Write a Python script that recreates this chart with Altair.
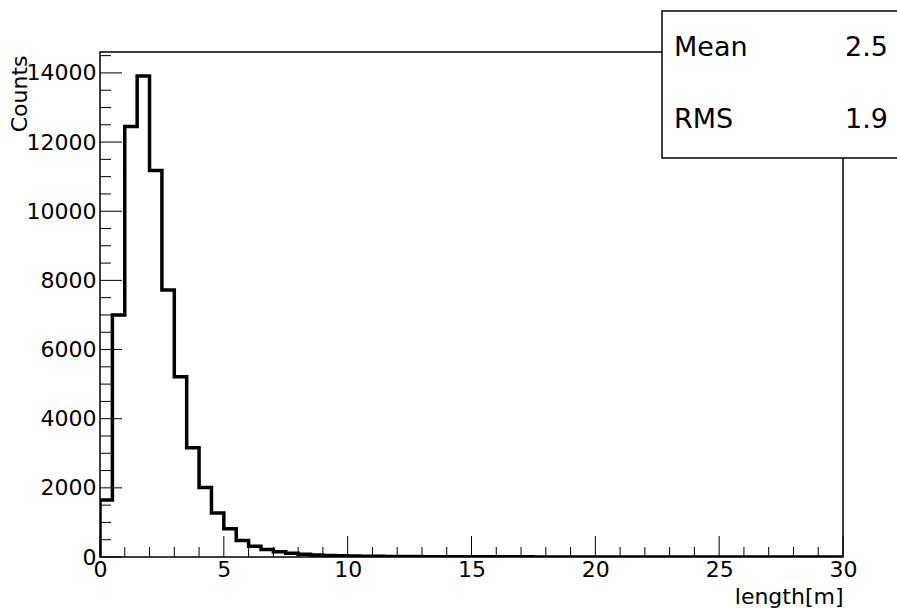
import altair as alt
import pandas as pd

# ---- data ----
bin_low = [0.0, 0.5, 1.0, 1.5, 2.0, 2.5, 3.0, 3.5, 4.0, 4.5,
           5.0, 5.5, 6.0, 6.5, 7.0, 7.5, 8.0, 8.5, 9.0, 9.5,
           10.0, 10.5, 11.0, 11.5, 12.0, 12.5, 13.0, 13.5, 14.0, 14.5,
           15.0, 15.5, 16.0, 16.5, 17.0, 17.5, 18.0, 18.5, 19.0, 19.5,
           20.0, 20.5, 21.0, 21.5, 22.0, 22.5, 23.0, 23.5, 24.0, 24.5,
           25.0, 25.5, 26.0, 26.5, 27.0, 27.5, 28.0, 28.5, 29.0, 29.5]
counts = [1650, 7000, 12450, 13910, 11180, 7720, 5210, 3160, 2010, 1270,
          820, 480, 310, 220, 150, 110, 80, 60, 45, 35,
          28, 24, 20, 17, 14, 12, 10, 9, 8, 7,
          6, 5, 5, 4, 4, 3, 3, 3, 2, 2,
          2, 2, 1, 1, 1, 1, 1, 1, 1, 1,
          1, 1, 1, 1, 1, 1, 1, 1, 1, 1]
x_max = 30.0
y_max = 14605

y_major = [0, 2000, 4000, 6000, 8000, 10000, 12000, 14000]
y_minor = [500, 1000, 1500, 2500, 3000, 3500, 4500, 5000, 5500, 6500, 7000, 7500,
           8500, 9000, 9500, 10500, 11000, 11500, 12500, 13000, 13500, 14500]
x_major = [0, 5, 10, 15, 20, 25, 30]
x_minor = [1, 2, 3, 4, 6, 7, 8, 9, 11, 12, 13, 14, 16, 17, 18, 19,
           21, 22, 23, 24, 26, 27, 28, 29]

stat_names = ["Mean", "RMS"]
stat_values = ["2.5", "1.9"]

W, H = 743, 505
FONT = "DejaVu Sans"

# step outline: start on baseline, end on baseline
xs = [0.0] + bin_low + [x_max, x_max]
ys = [0] + counts + [counts[-1], 0]
hist_df = pd.DataFrame({"x": xs, "y": ys, "o": list(range(len(xs)))})

xscale = alt.Scale(domain=[0, x_max], nice=False, zero=False)
yscale = alt.Scale(domain=[0, y_max], nice=False)

xaxis = alt.Axis(values=x_major, format="d", title="length[m]", labelFlush=False,
                 labelPadding=2, titleAnchor="end", titleAlign="right",
                 titleX=W, titleY=46, titleBaseline="alphabetic")
yaxis = alt.Axis(values=y_major, format="d", title="Counts", labelPadding=4,
                 titleAngle=270, titleAlign="right", titleBaseline="alphabetic",
                 titleX=-74, titleY=3)

frame = alt.Chart(pd.DataFrame({"a": [0]})).mark_rect(
    fillOpacity=0, stroke="black", strokeWidth=1.5
).encode(x=alt.value(0), x2=alt.value(W), y=alt.value(0), y2=alt.value(H))

hist = alt.Chart(hist_df).mark_line(
    interpolate="step-after", color="black", strokeWidth=3.5, clip=True
).encode(
    x=alt.X("x:Q", scale=xscale, axis=xaxis),
    y=alt.Y("y:Q", scale=yscale, axis=yaxis),
    order="o:Q",
)

def yticks(vals, length):
    return alt.Chart(pd.DataFrame({"y": vals})).mark_rule(color="black", strokeWidth=1).encode(
        y=alt.Y("y:Q", scale=yscale, axis=yaxis), x=alt.value(0), x2=alt.value(length))

def xticks(vals, length):
    return alt.Chart(pd.DataFrame({"x": vals})).mark_rule(color="black", strokeWidth=1).encode(
        x=alt.X("x:Q", scale=xscale, axis=xaxis), y=alt.value(H), y2=alt.value(H - length))

box = alt.Chart(pd.DataFrame({"a": [0]})).mark_rect(
    fill="white", stroke="black", strokeWidth=1.5
).encode(x=alt.value(562), x2=alt.value(820), y=alt.value(-41), y2=alt.value(106))

def stat_text(name, value, ybase):
    d = pd.DataFrame({"n": [name], "v": [value]})
    t1 = alt.Chart(d).mark_text(font=FONT, fontSize=27, align="left", baseline="alphabetic",
                                color="black").encode(
        text="n:N", x=alt.value(574), y=alt.value(ybase))
    t2 = alt.Chart(d).mark_text(font=FONT, fontSize=27, align="right", baseline="alphabetic",
                                color="black").encode(
        text="v:N", x=alt.value(788), y=alt.value(ybase))
    return t1 + t2

chart = alt.layer(
    frame,
    yticks(y_major, 22), yticks(y_minor, 11),
    xticks(x_major, 21), xticks(x_minor, 10),
    hist,
    box,
    stat_text(stat_names[0], stat_values[0], 4),
    stat_text(stat_names[1], stat_values[1], 76),
).properties(
    width=W, height=H,
    autosize=alt.AutoSizeParams(type="none"),
    padding={"left": 100, "top": 52, "right": 54, "bottom": 51},
    background="white",
).configure_view(stroke=None).configure_axis(
    grid=False, ticks=False, domain=False,
    labelFont=FONT, labelFontSize=22, labelColor="black",
    titleFont=FONT, titleFontSize=22, titleColor="black", titleFontWeight="normal",
)

chart.save("out.html", embed_options={"renderer": "svg", "actions": False})
